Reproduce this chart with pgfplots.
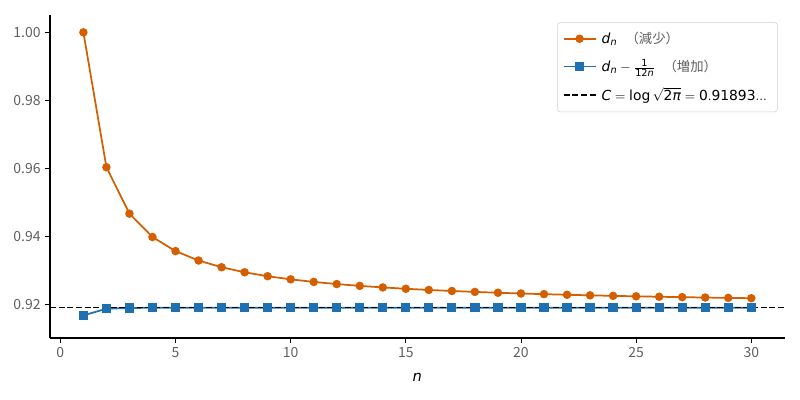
\documentclass[border=0pt]{standalone}
\usepackage{mathspec}
\usepackage{pgfplots}
\pgfplotsset{compat=1.18}
\setmainfont{DejaVu Sans}
\setmathsfont(Digits,Latin,Greek){DejaVu Sans}
\setmathrm{DejaVu Sans}
\newfontfamily\cjk{Noto Sans CJK JP}
\definecolor{dorange}{HTML}{D55E00}
\definecolor{dblue}{HTML}{1F70B0}
\definecolor{ticktext}{HTML}{606060}
\begin{document}
\begin{tikzpicture}
\path[use as bounding box] (0,0) rectangle (600pt,300pt);
\begin{axis}[
    at={(37.5pt,46.5pt)}, anchor=south west,
    scale only axis,
    width=551pt, height=242pt,
    xmin=-0.45, xmax=31.45,
    ymin=0.910, ymax=1.005,
    axis x line*=bottom, axis y line*=left,
    axis line style={line width=0.8pt},
    xtick={0,5,10,15,20,25,30},
    ytick={0.92,0.94,0.96,0.98,1.00},
    tick align=outside, major tick length=3.5pt,
    tick style={black, line width=0.6pt},
    yticklabel style={/pgf/number format/fixed, /pgf/number format/fixed zerofill, /pgf/number format/precision=2},
    ticklabel style={font=\cjk\fontsize{10.5}{12}\selectfont, text=ticktext},
    /pgf/number format/assume math mode=true,
    xlabel={$n$},
    xlabel style={font=\fontsize{11}{13}\selectfont, yshift=-5pt},
    legend cell align=left,
    legend image code/.code={
        \draw[mark repeat=2, mark phase=2] plot coordinates {(0cm,0cm) (0.42cm,0cm) (0.84cm,0cm)};},
    legend style={at={(0.9905,0.978)}, anchor=north east,
        draw=black!18, rounded corners=2pt, font=\fontsize{10.4}{14}\selectfont,
        row sep=6.5pt, inner xsep=4pt, inner ysep=5pt,
        nodes={inner xsep=4pt}},
  ]
\addplot[color=dorange, line width=1.3pt, mark=*, mark size=2.5pt] coordinates {
    (1,1.000000) (2,0.960279) (3,0.946616) (4,0.939729) (5,0.935583)
    (6,0.932815) (7,0.930835) (8,0.929350) (9,0.928194) (10,0.927269)
    (11,0.926512) (12,0.925881) (13,0.925348) (14,0.924890) (15,0.924494)
    (16,0.924146) (17,0.923840) (18,0.923568) (19,0.923324) (20,0.923105)
    (21,0.922907) (22,0.922726) (23,0.922561) (24,0.922411) (25,0.922272)
    (26,0.922144) (27,0.922025) (28,0.921915) (29,0.921812) (30,0.921716)
};
\addlegendentry{$d_n$\; {\cjk\fontsize{10}{12}\selectfont\color{ticktext}（減少）}}
\addplot[color=dblue, line width=1.3pt, mark=square*, mark size=2.8pt] coordinates {
    (1,0.916667) (2,0.918612) (3,0.918838) (4,0.918896) (5,0.918917)
    (6,0.918926) (7,0.918931) (8,0.918933) (9,0.918935) (10,0.918936)
    (11,0.918937) (12,0.918937) (13,0.918937) (14,0.918938) (15,0.918938)
    (16,0.918938) (17,0.918938) (18,0.918938) (19,0.918938) (20,0.918938)
    (21,0.918938) (22,0.918938) (23,0.918938) (24,0.918938) (25,0.918938)
    (26,0.918938) (27,0.918938) (28,0.918938) (29,0.918938) (30,0.918938)
};
\addlegendentry{$d_n-\frac{1}{12n}$\; {\cjk\fontsize{10}{12}\selectfont\color{ticktext}（増加）}}
\addplot[black, line width=1.2pt, dash pattern=on 4.5pt off 2pt] coordinates {(-0.45,0.918939) (31.45,0.918939)};
\addlegendentry{$C=\mathrm{log}\,\sqrt{2\pi}=0.91893...$}
\end{axis}
\end{tikzpicture}
\end{document}
